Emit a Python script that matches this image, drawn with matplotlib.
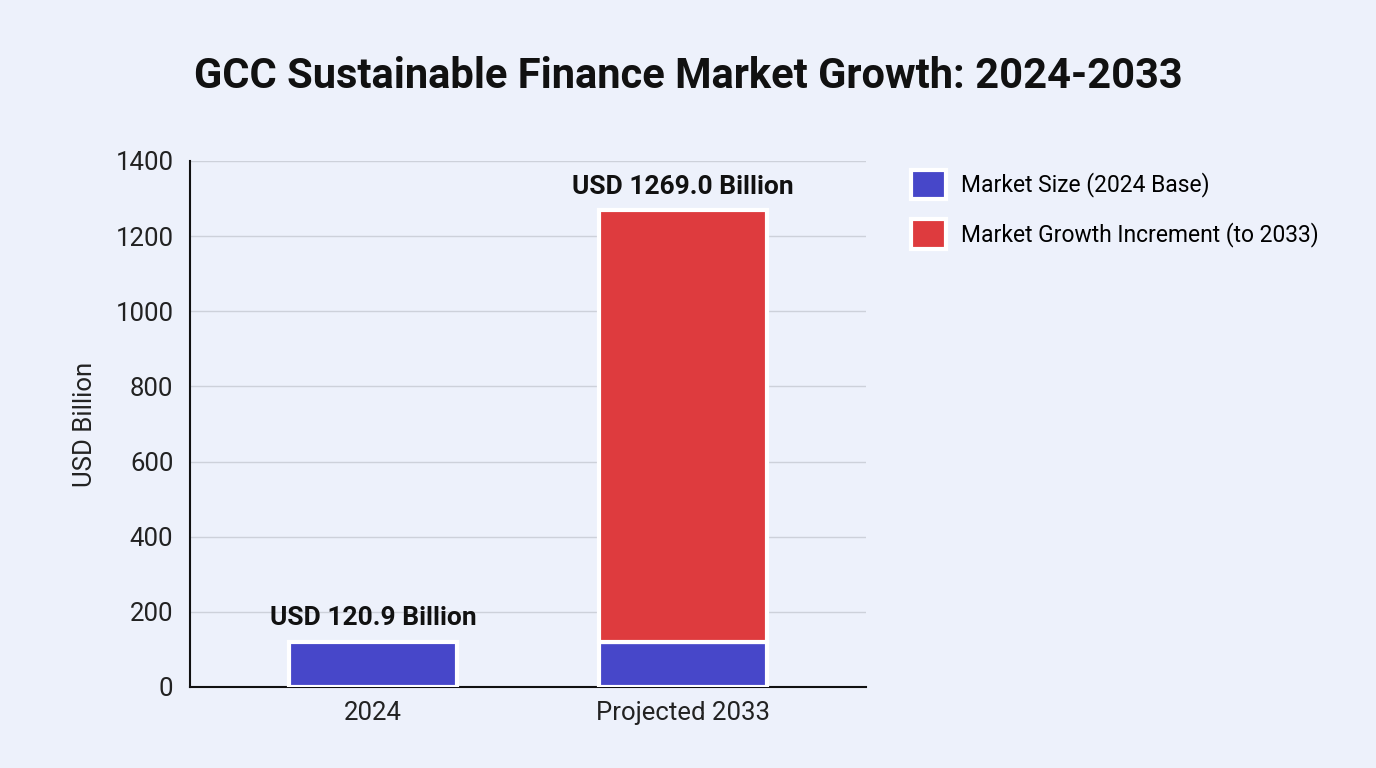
import matplotlib
matplotlib.use("Agg")
import matplotlib.pyplot as plt

categories = ["2024", "Projected 2033"]
base_values = [120.9, 120.9]
increment_values = [0.0, 1148.1]
totals = [120.9, 1269.0]
series_names = ["Market Size (2024 Base)", "Market Growth Increment (to 2033)"]
yticks = [0, 200, 400, 600, 800, 1000, 1200, 1400]

plt.rcParams['font.family'] = ['Roboto', 'DejaVu Sans']
bg = "#EDF1FB"
blue = "#4747C9"
red = "#DE3B3E"

fig = plt.figure(figsize=(13.76, 7.68), dpi=100, facecolor=bg)
ax = fig.add_axes([190/1376, 1 - 687/768, (866-190)/1376, (687-161)/768])
ax.set_facecolor(bg)

x = list(range(len(categories)))
b1 = ax.bar(x, base_values, width=0.54, color=blue, edgecolor="white", linewidth=3,
            label=series_names[0], zorder=3)
b2 = ax.bar([1], [increment_values[1]], bottom=[base_values[1]], width=0.54, color=red,
            edgecolor="white", linewidth=3, label=series_names[1], zorder=3)

for xi, t in zip(x, totals):
    ax.annotate(f"USD {t:.1f} Billion", (xi, t), xytext=(0, 8), textcoords="offset points",
                ha="center", va="bottom", fontsize=19, fontweight="bold", color="#111111")

ax.set_xlim(-0.59, 1.59)
ax.set_ylim(0, 1400)
ax.set_yticks(yticks)
ax.set_xticks(x)
ax.set_xticklabels(categories)
ax.tick_params(axis="both", labelsize=18.5, length=0, colors="#222222", pad=10)
ax.tick_params(axis="y", pad=12)
ax.grid(axis="y", color="#CDD1DA", linewidth=1, zorder=0)
ax.set_axisbelow(True)
for s in ["top", "right"]:
    ax.spines[s].set_visible(False)
ax.spines["left"].set_color("#111111")
ax.spines["bottom"].set_color("#111111")
ax.spines["left"].set_linewidth(1.5)
ax.spines["bottom"].set_linewidth(1.5)
ax.set_ylabel("USD Billion", fontsize=18.5, color="#222222", labelpad=13)

fig.text(688/1376, 1 - 76/768, "GCC Sustainable Finance Market Growth: 2024-2033",
         ha="center", va="center", fontsize=30, fontweight="bold", color="#111111")

leg = fig.legend(handles=[b1, b2], labels=series_names, loc="upper left",
                 bbox_to_anchor=(890/1376, 1 - 149/768), frameon=False, fontsize=16.5,
                 handlelength=1.55, handleheight=1.6, labelspacing=0.88, handletextpad=0.65)

fig.savefig("out.png", dpi=100, facecolor=bg)
